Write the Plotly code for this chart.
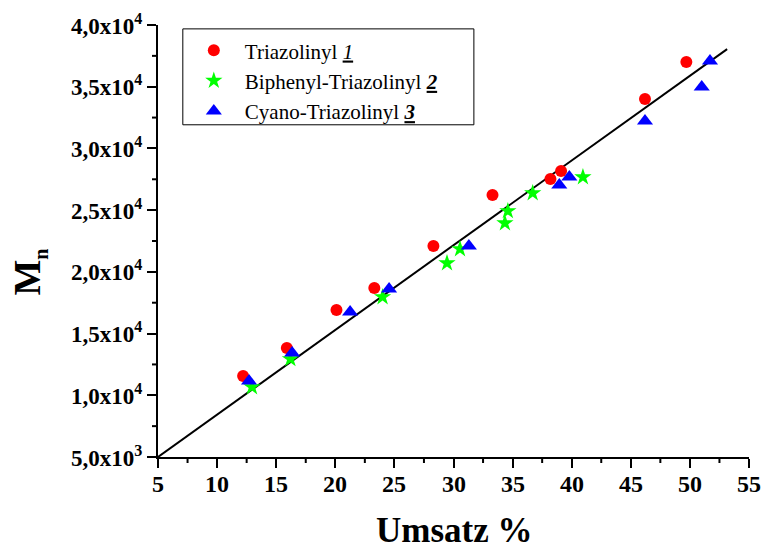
import plotly.graph_objects as go

# Conversion (Umsatz %) and number-average molar mass M_n for each initiator
tri_x = [12.2, 15.9, 20.1, 23.3, 28.3, 33.3, 38.2, 39.1, 46.2, 49.7]
tri_y = [11560, 13830, 16910, 18690, 22090, 26220, 27520, 28170, 34000, 37000]

biph_x = [12.95, 16.2, 24.0, 29.45, 30.55, 34.35, 34.6, 36.7, 40.95]
biph_y = [10670, 12940, 17960, 20710, 21850, 23950, 24930, 26380, 27680]

cyano_x = [12.7, 16.35, 21.25, 24.55, 31.3, 38.95, 39.8, 46.2, 51.0, 51.7]
cyano_y = [11160, 13420, 16750, 18610, 22090, 27030, 27680, 32220, 34970, 37080]

# Linear trend line endpoints
fit_x = [5.0, 53.15]
fit_y = [5000, 38050]

# Axis ticks
x_ticks = [5, 10, 15, 20, 25, 30, 35, 40, 45, 50, 55]
x_ticktext = [str(v) for v in x_ticks]
x_minor = [7.5, 12.5, 17.5, 22.5, 27.5, 32.5, 37.5, 42.5, 47.5, 52.5]
y_ticks = [5000, 10000, 15000, 20000, 25000, 30000, 35000, 40000]
y_ticktext = ["5,0x10<sup>3</sup>", "1,0x10<sup>4</sup>", "1,5x10<sup>4</sup>",
              "2,0x10<sup>4</sup>", "2,5x10<sup>4</sup>", "3,0x10<sup>4</sup>",
              "3,5x10<sup>4</sup>", "4,0x10<sup>4</sup>"]
y_minor = [7500, 12500, 17500, 22500, 27500, 32500, 37500]

SERIF = "Liberation Serif"

fig = go.Figure()

fig.add_trace(go.Scatter(
    x=fit_x, y=fit_y, mode="lines",
    line=dict(color="black", width=2),
    showlegend=False, hoverinfo="skip"))

fig.add_trace(go.Scatter(
    x=tri_x, y=tri_y, mode="markers",
    name="Triazolinyl <i><u>1</u></i>",
    marker=dict(symbol="circle", size=12, color="#FF0000")))

fig.add_trace(go.Scatter(
    x=biph_x, y=biph_y, mode="markers",
    name="Biphenyl-Triazolinyl <b><i><u>2</u></i></b>",
    marker=dict(symbol="star", size=13, color="#00FF00")))

fig.add_trace(go.Scatter(
    x=cyano_x, y=cyano_y, mode="markers",
    name="Cyano-Triazolinyl <b><i><u>3</u></i></b>",
    marker=dict(symbol="triangle-up", size=14, color="#0000FF")))

axis_common = dict(
    showline=True, linecolor="black", linewidth=2,
    ticks="outside", ticklen=9, tickwidth=2, tickcolor="black",
    showgrid=False, zeroline=False, mirror=False, showticklabels=False,
)

fig.update_xaxes(**axis_common, range=[5, 55], tickmode="array", tickvals=x_ticks)
fig.update_yaxes(**axis_common, range=[5000, 40000], tickmode="array", tickvals=y_ticks)

annotations = []

# tick labels, placed through the axis scales
for v, t in zip(x_ticks, x_ticktext):
    annotations.append(dict(
        x=v, xref="x", y=0, yref="paper", yanchor="top", xanchor="center",
        yshift=-12, text="<b>%s</b>" % t, showarrow=False,
        font=dict(family=SERIF, size=24, color="black")))
for v, t in zip(y_ticks, y_ticktext):
    annotations.append(dict(
        x=0, xref="paper", y=v, yref="y", xanchor="right", yanchor="middle",
        xshift=-14, yshift=1, text="<b>%s</b>" % t, showarrow=False,
        font=dict(family=SERIF, size=23, color="black")))

# axis titles
annotations.append(dict(
    x=0.502, xref="paper", y=0, yref="paper", xanchor="center", yanchor="middle",
    yshift=-73, text="<b>Umsatz %</b>", showarrow=False,
    font=dict(family=SERIF, size=35, color="black")))
annotations.append(dict(
    x=0, xref="paper", y=0.427, yref="paper", xanchor="center", yanchor="middle",
    xshift=-129, textangle=-90,
    text="<b>M<sub><span style='font-size:20px'>n</span></sub></b>",
    showarrow=False, font=dict(family=SERIF, size=38, color="black")))

shapes = []
# short intermediate ticks
for v in x_minor:
    shapes.append(dict(type="line", xref="x", x0=v, x1=v,
                       yref="paper", ysizemode="pixel", yanchor=0, y0=0, y1=-6,
                       line=dict(color="black", width=2)))
for v in y_minor:
    shapes.append(dict(type="line", yref="y", y0=v, y1=v,
                       xref="paper", xsizemode="pixel", xanchor=0, x0=0, x1=-6,
                       line=dict(color="black", width=2)))
# frame around the legend
shapes.append(dict(type="rect", xref="paper", yref="paper",
                   x0=0.042, x1=0.5345, y0=0.769, y1=0.991,
                   line=dict(color="black", width=1), fillcolor="rgba(0,0,0,0)"))

fig.update_layout(
    width=765, height=550,
    margin=dict(l=158, r=16, t=25, b=93),
    paper_bgcolor="white", plot_bgcolor="white",
    font=dict(family=SERIF, color="black"),
    annotations=annotations,
    shapes=shapes,
    legend=dict(
        x=0.042, y=0.988, xanchor="left", yanchor="top",
        bgcolor="rgba(0,0,0,0)", borderwidth=0,
        font=dict(family=SERIF, size=21, color="black"),
        itemwidth=52, tracegroupgap=0,
    ),
)

fig.write_html("out.html")
